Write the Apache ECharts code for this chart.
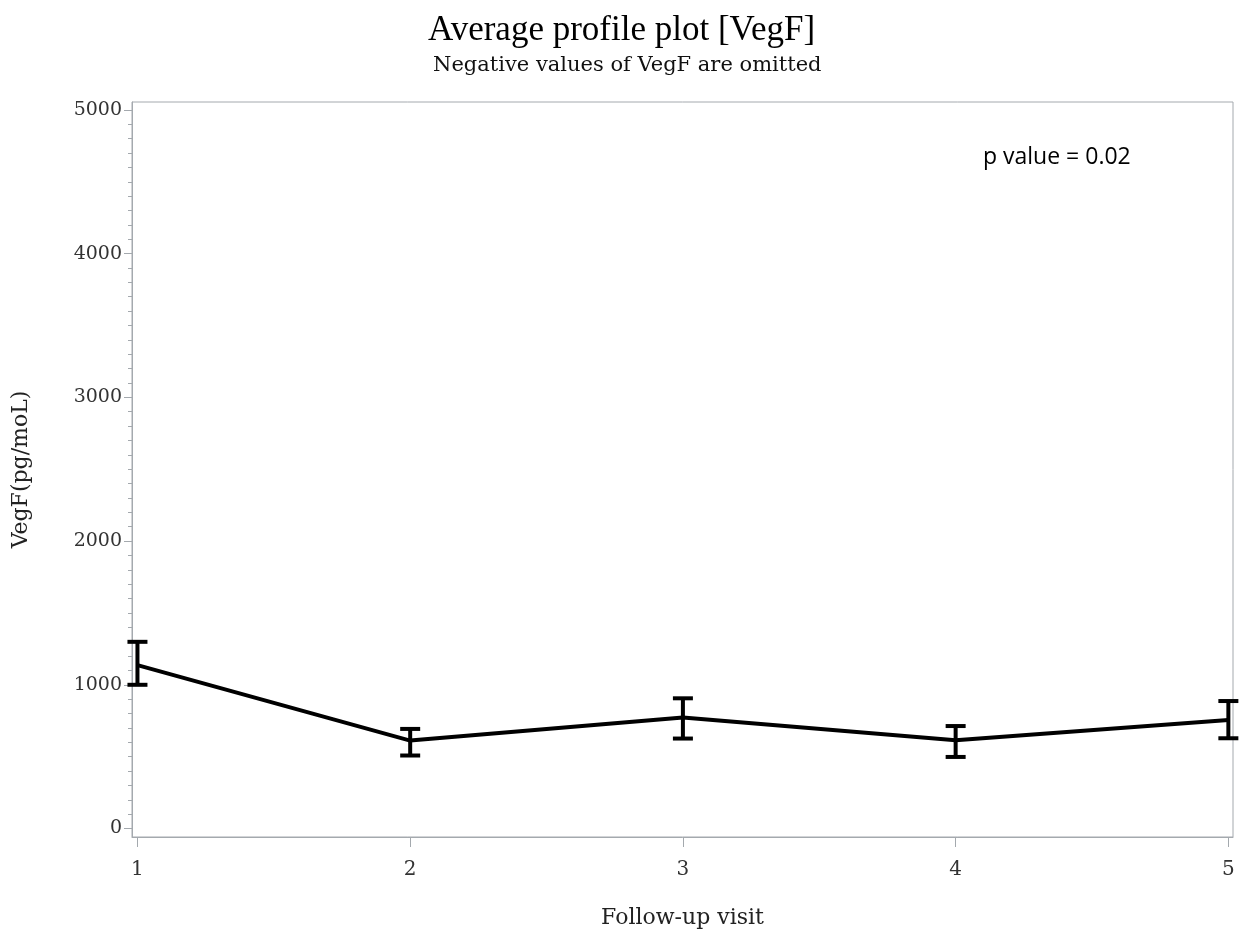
<!DOCTYPE html>
<html>
<head>
<meta charset="utf-8">
<title>Average profile plot [VegF]</title>
<script src="https://cdn.jsdelivr.net/npm/echarts@6/dist/echarts.min.js"></script>
<style>
  html, body { margin: 0; padding: 0; background: #ffffff; }
  #chart { width: 1242px; height: 934px; }
</style>
</head>
<body>
<div id="chart"></div>
<script>
// Follow-up visits and the mean VegF profile with its error bars
const visits = [1, 2, 3, 4, 5];
const meanVegF = [1137, 612, 772, 614, 755];
const lowerVegF = [1000, 508, 626, 498, 628];
const upperVegF = [1299, 693, 906, 713, 887];

// Axis tick values
const xTicks = [1, 2, 3, 4, 5];
const yTicks = [0, 1000, 2000, 3000, 4000, 5000];
const yMinorTicks = [];
for (let v = 0; v <= 5000; v += 100) yMinorTicks.push(v);

const axisGray = '#a4a9ae';
const labelFont = 'DejaVu Serif';

const chart = echarts.init(document.getElementById('chart'), null, { renderer: 'canvas' });

const lineData = visits.map((v, i) => [v, meanVegF[i]]);
const barData = visits.map((v, i) => [v, lowerVegF[i], upperVegF[i]]);

chart.setOption({
  backgroundColor: '#ffffff',
  animation: false,
  title: [
    {
      text: 'Average profile plot [VegF]',
      left: 423,
      top: 8,
      textStyle: { fontFamily: 'Liberation Serif', fontSize: 35, fontWeight: 'normal', color: '#000000' }
    },
    {
      text: 'Negative values of VegF are omitted',
      left: 428,
      top: 50,
      textStyle: { fontFamily: labelFont, fontSize: 21, fontWeight: 'normal', color: '#111111' }
    }
  ],
  grid: {
    left: 132, right: 9, top: 102, bottom: 95,
    show: true, borderColor: axisGray, borderWidth: 1, backgroundColor: 'transparent'
  },
  xAxis: {
    type: 'value',
    min: 0.98, max: 5.017,
    name: 'Follow-up visit',
    nameLocation: 'middle',
    nameGap: 70,
    nameTextStyle: { fontFamily: labelFont, fontSize: 22, color: '#222222' },
    axisLine: { show: true, onZero: false, lineStyle: { color: axisGray, width: 1 } },
    axisTick: { show: true, length: 10, customValues: xTicks, lineStyle: { color: axisGray } },
    axisLabel: {
      customValues: xTicks, margin: 23, fontFamily: labelFont, fontSize: 20, color: '#333333',
      formatter: v => String(v)
    },
    splitLine: { show: false }
  },
  yAxis: [
    {
      type: 'value',
      min: -59, max: 5055,
      name: 'VegF(pg/moL)',
      nameLocation: 'middle',
      nameGap: 100,
      nameRotate: 90,
      nameTextStyle: { fontFamily: labelFont, fontSize: 22, color: '#222222' },
      axisLine: { show: true, onZero: false, lineStyle: { color: axisGray, width: 1 } },
      axisTick: { show: true, length: 8, customValues: yTicks, lineStyle: { color: axisGray } },
      axisLabel: {
        customValues: yTicks, margin: 10, fontFamily: labelFont, fontSize: 19, color: '#333333',
        formatter: v => String(v)
      },
      splitLine: { show: false }
    },
    {
      type: 'value',
      min: -59, max: 5055,
      position: 'left',
      axisLine: { show: false },
      axisTick: { show: true, length: 4, customValues: yMinorTicks, lineStyle: { color: axisGray } },
      axisLabel: { show: false },
      splitLine: { show: false }
    }
  ],
  graphic: [
    {
      type: 'text',
      left: 983,
      top: 146,
      style: { text: 'p value = 0.02', font: '23px "Open Sans"', fill: '#000000' }
    }
  ],
  series: [
    {
      type: 'line',
      data: lineData,
      showSymbol: false,
      symbol: 'none',
      lineStyle: { color: '#000000', width: 4 },
      z: 3
    },
    {
      type: 'custom',
      data: barData,
      clip: false,
      z: 4,
      renderItem: function (params, api) {
        const x = api.value(0);
        const lo = api.coord([x, api.value(1)]);
        const hi = api.coord([x, api.value(2)]);
        const half = 10;
        const style = { stroke: '#000000', lineWidth: 4, fill: null };
        return {
          type: 'group',
          children: [
            { type: 'line', shape: { x1: lo[0], y1: lo[1], x2: hi[0], y2: hi[1] }, style: style },
            { type: 'line', shape: { x1: hi[0] - half, y1: hi[1], x2: hi[0] + half, y2: hi[1] }, style: style },
            { type: 'line', shape: { x1: lo[0] - half, y1: lo[1], x2: lo[0] + half, y2: lo[1] }, style: style }
          ]
        };
      }
    }
  ]
});
</script>
</body>
</html>
